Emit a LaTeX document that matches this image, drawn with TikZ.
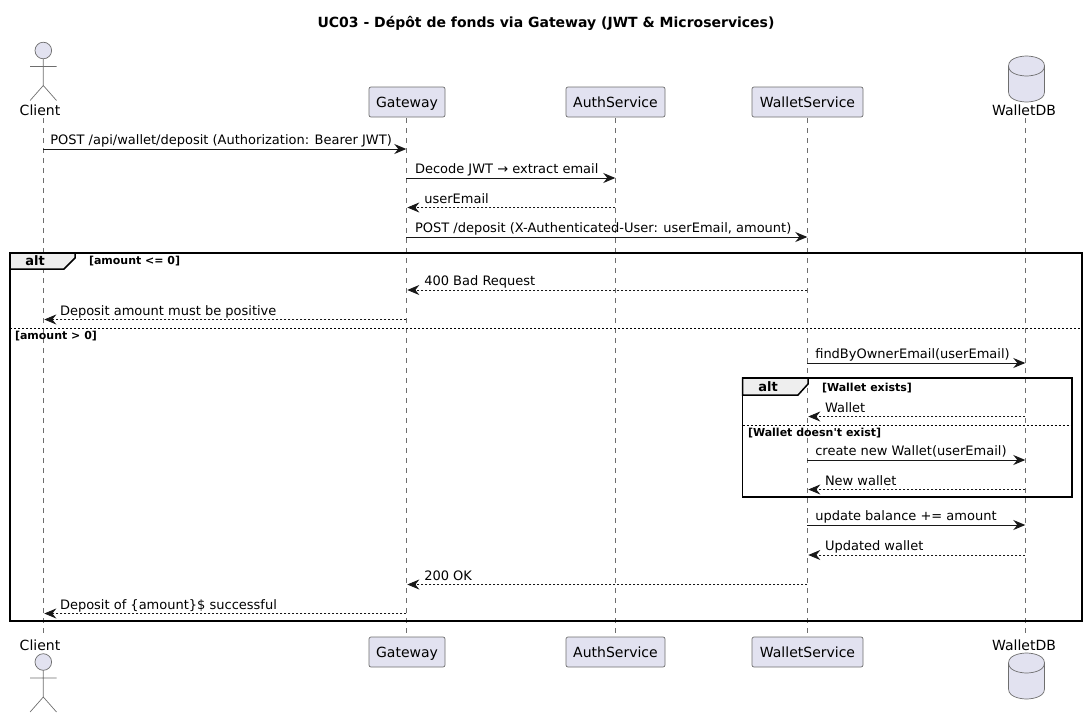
\documentclass[tikz,border=0pt]{standalone}
\usepackage{fontspec}
\setmainfont{DejaVu Sans}
\newfontfamily\straightfont{DejaVu Sans}
\usetikzlibrary{arrows.meta}
\definecolor{pfill}{HTML}{E2E2F0}
\definecolor{pline}{HTML}{181818}
\definecolor{lifegray}{HTML}{6E6E6E}
\definecolor{tabfill}{HTML}{EEEEEE}
\tikzset{
  x=1pt,y=-1pt,
  every node/.style={inner sep=0pt,outer sep=0pt,text=black},
  txt/.style={font=\fontsize{13}{15}\selectfont},
  part/.style={draw=lifegray,line width=0.7pt,fill=pfill,rounded corners=2pt,minimum height=30pt,font=\fontsize{14}{16}\selectfont,text height=13pt,text depth=3pt},
  plabel/.style={font=\fontsize{14}{16}\selectfont},
  life/.style={draw=lifegray,line width=0.5pt,dash pattern=on 5pt off 5pt},
  call/.style={draw=pline,line width=1pt,-{Stealth[length=12pt,width=10pt,inset=4pt]}},
  reply/.style={draw=pline,line width=0.8pt,dash pattern=on 2pt off 2pt,shorten >=1pt,-{Stealth[length=12pt,width=10pt,inset=4pt]}},
  msgl/.style={txt,anchor=base west},
  frame/.style={draw=black,line width=1.5pt},
  tab/.style={draw=black,line width=1.5pt,fill=tabfill},
  divider/.style={draw=black,line width=0.8pt,dash pattern=on 2pt off 2pt},
  alttxt/.style={font=\bfseries\fontsize{13}{15}\selectfont},
  guard/.style={font=\bfseries\fontsize{11}{13}\selectfont,anchor=base west},
  actorbody/.style={draw=lifegray,line width=0.7pt},
  dbbody/.style={draw=lifegray,line width=0.7pt,fill=pfill},
}
% \actorfig{x}{head centre y}
\newcommand{\actorfig}[2]{%
  \draw[actorbody,fill=pfill] (#1,#2) circle (8.3);
  \draw[actorbody] (#1,#2+8.3) -- (#1,#2+35) (#1-13.2,#2+16) -- (#1+13.2,#2+16)
    (#1-13.2,#2+50) -- (#1,#2+35) -- (#1+13.2,#2+50);}
% \dbfig{centre x}{top y}
\newcommand{\dbfig}[2]{%
  \draw[dbbody] (#1-18,#2+10) .. controls (#1-18,#2) and (#1,#2) .. (#1,#2)
     .. controls (#1,#2) and (#1+18,#2) .. (#1+18,#2+10)
     -- (#1+18,#2+36) .. controls (#1+18,#2+46) and (#1,#2+46) .. (#1,#2+46)
     .. controls (#1,#2+46) and (#1-18,#2+46) .. (#1-18,#2+36) -- cycle;
  \draw[dbbody,fill=none] (#1-18,#2+10) .. controls (#1-18,#2+20) and (#1,#2+20) .. (#1,#2+20)
     .. controls (#1,#2+20) and (#1+18,#2+20) .. (#1+18,#2+10);}
% \callmsg[xoffset]{name}{from}{to}{y}{text}: left-to-right solid
\newcommand{\callmsg}[6][8pt]{%
  \coordinate (#2a) at (#3 |- 0,#5);
  \coordinate (#2b) at (#4 |- 0,#5);
  \draw[call] (#2a) -- (#2b);
  \node[msgl] (#2t) at ([xshift=#1,yshift=4.5pt]#2a) {#6};}
% \replymsg[xoffset]{name}{from}{to}{y}{text}: right-to-left dashed
\newcommand{\replymsg}[6][18pt]{%
  \coordinate (#2a) at (#3 |- 0,#5);
  \coordinate (#2b) at (#4 |- 0,#5);
  \draw[reply] (#2a) -- (#2b);
  \node[msgl] (#2t) at ([xshift=#1,yshift=4.5pt]#2b) {#6};}
\begin{document}
\begin{tikzpicture}
\useasboundingbox (0,0) rectangle (1087,718);
\node[font=\bfseries\fontsize{14}{16}\selectfont] (title) at (546,23.5) {UC03 - Dépôt de fonds via Gateway (JWT \& Microservices)};

% lifeline end points
\coordinate (cT) at (43.3,118); \coordinate (cB) at (43.3,634);
\coordinate (gT) at (406.3,118); \coordinate (gB) at (406.3,634);
\coordinate (aT) at (615.3,118); \coordinate (aB) at (615.3,634);
\coordinate (wT) at (807.3,118); \coordinate (wB) at (807.3,634);
\coordinate (dT) at (1025.3,118); \coordinate (dB) at (1025.3,634);
\foreach \p in {c,g,a,w,d} {\draw[life] (\p T) -- (\p B);}

% participants, top
\actorfig{43.3}{50.5}
\node[plabel] (clientT) at (40,110) {Client};
\node[part,minimum width=76pt] (gatewayT) at (407,102) {Gateway};
\node[part,minimum width=99pt] (authT) at (615.5,102) {AuthService};
\node[part,minimum width=111pt] (walletT) at (807.5,102) {WalletService};
\dbfig{1026.5}{56}
\node[plabel] (dbT) at (1024,110) {WalletDB};
% participants, bottom
\node[plabel] (clientB) at (40,645) {Client};
\actorfig{43.3}{662}
\node[part,minimum width=76pt] (gatewayB) at (407,652) {Gateway};
\node[part,minimum width=99pt] (authB) at (615.5,652) {AuthService};
\node[part,minimum width=111pt] (walletB) at (807.5,652) {WalletService};
\node[plabel] (dbB) at (1024,645) {WalletDB};
\dbfig{1026.5}{653}

% outer alt
\draw[frame] (10,253) rectangle (1082,621);
\draw[tab] (10,253) -- (75,253) -- (75,258) -- (64,269) -- (10,269) -- cycle;
\node[alttxt] (alt1) at (35,260.5) {alt};
\node[guard] (g1) at (89,264) {[amount <= 0]};
\draw[divider] (10,328.5) -- (1082,328.5);
\node[guard] (g2) at (15,339) {[amount > 0]};

% inner alt
\draw[frame] (742.5,378) rectangle (1072,497);
\draw[tab] (742.5,378) -- (808,378) -- (808,384) -- (798,395) -- (742.5,395) -- cycle;
\node[alttxt] (alt2) at (768,387) {alt};
\node[guard] (g3) at (822,391) {[Wallet exists]};
\draw[divider] (742.5,425.5) -- (1072,425.5);
\node[guard] (g4) at (748,436) {\straightfont\bfseries [Wallet doesn't exist]};

% messages
\callmsg[7pt]{m1}{cT}{gT}{149}{POST /api/wallet/deposit (Authorization: Bearer JWT)}
\callmsg[8.7pt]{m2}{gT}{aT}{178}{Decode JWT → extract email}
\replymsg{m3}{aT}{gT}{207.5}{userEmail}
\callmsg[8.7pt]{m4}{gT}{wT}{237}{POST /deposit (X-Authenticated-User: userEmail, amount)}
\replymsg{m5}{wT}{gT}{290}{400 Bad Request}
\replymsg[16.7pt]{m6}{gT}{cT}{319.5}{Deposit amount must be positive}
\callmsg{m7}{wT}{dT}{363}{findByOwnerEmail(userEmail)}
\replymsg[17.7pt]{m8}{dT}{wT}{416.5}{Wallet}
\callmsg{m9}{wT}{dT}{460}{create new Wallet(userEmail)}
\replymsg[17.7pt]{m10}{dT}{wT}{489.5}{New wallet}
\callmsg{m11}{wT}{dT}{525}{update balance += amount}
\replymsg[17.7pt]{m12}{dT}{wT}{555}{Updated wallet}
\replymsg{m13}{wT}{gT}{584.5}{200 OK}
\replymsg[16.7pt]{m14}{gT}{cT}{613.5}{Deposit of \{amount\}\$ successful}
\end{tikzpicture}
\end{document}
